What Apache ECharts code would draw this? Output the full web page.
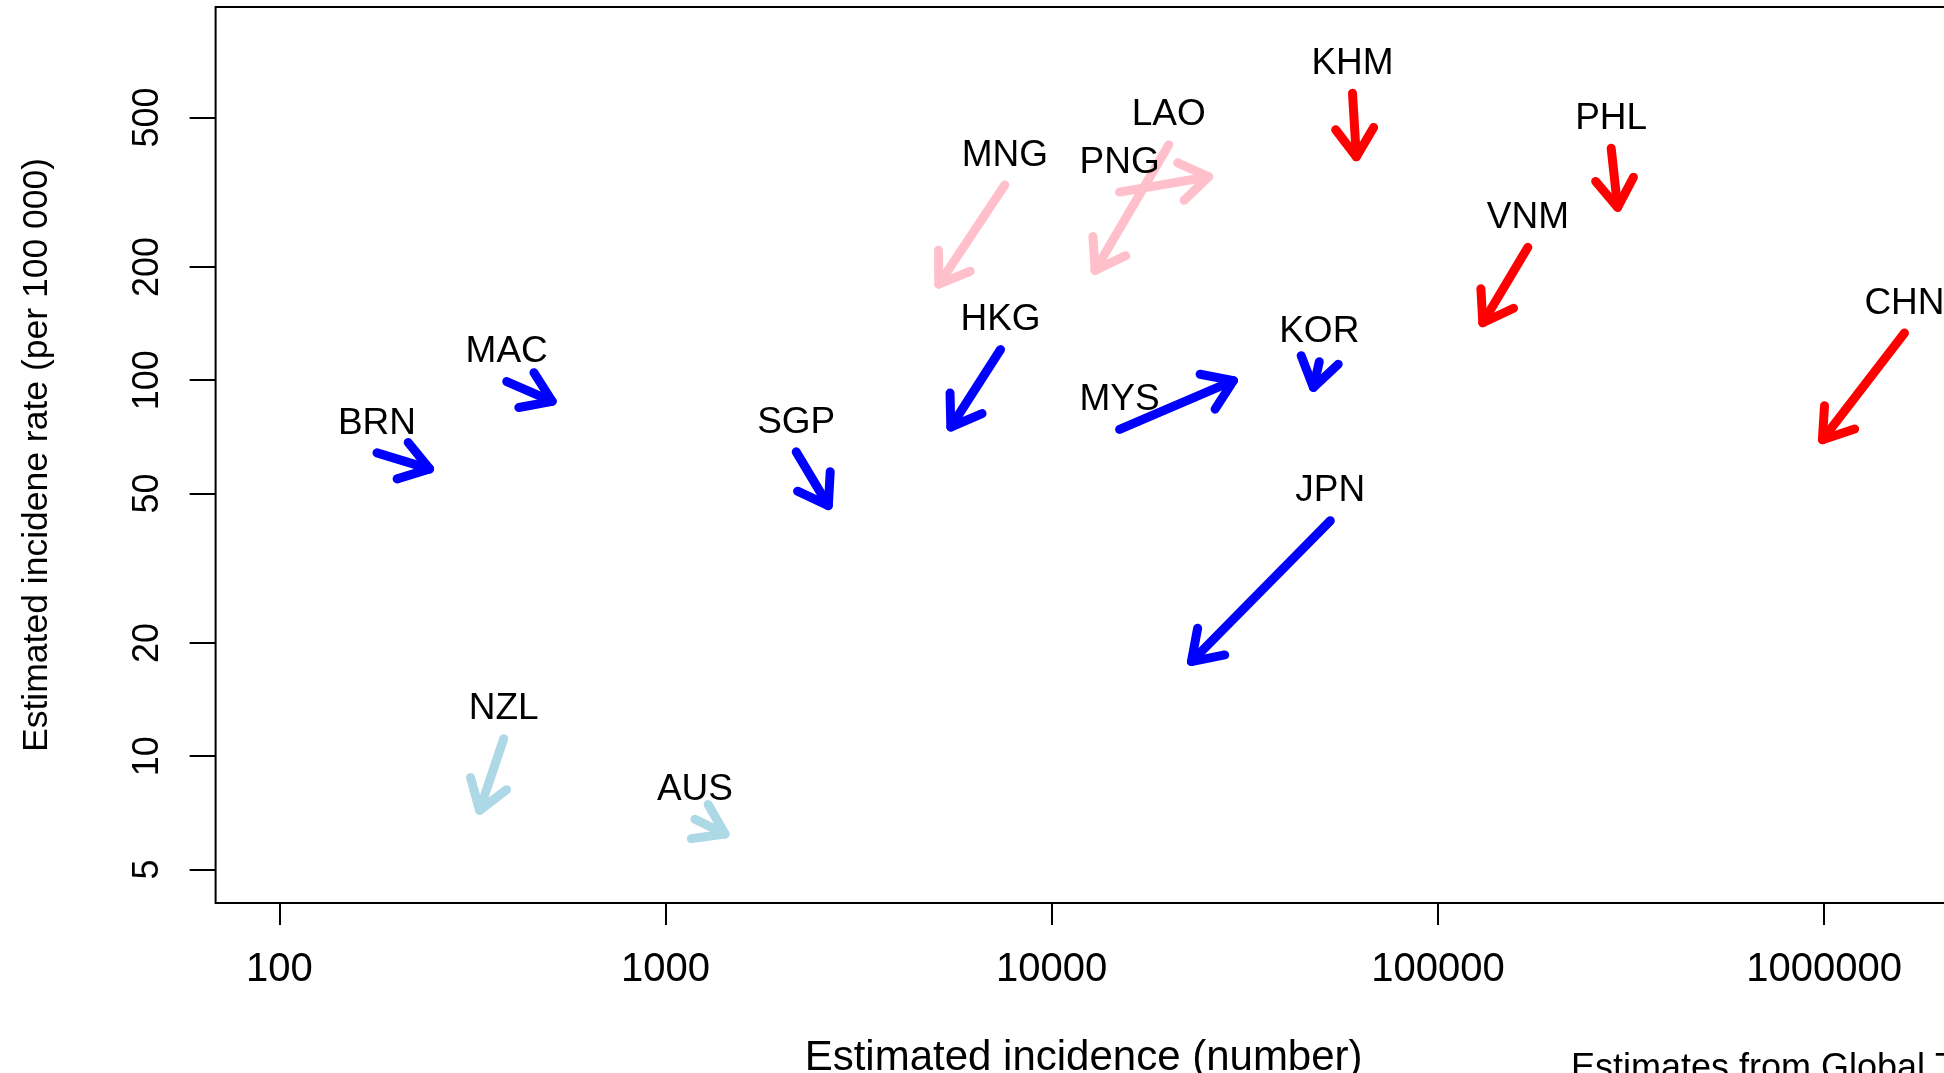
<!DOCTYPE html>
<html><head><meta charset="utf-8">
<script src="https://cdn.jsdelivr.net/npm/echarts@6/dist/echarts.min.js"></script>
<style>html,body{margin:0;padding:0;background:#fff;overflow:hidden}#c{width:1944px;height:1073px}</style>
</head><body><div id="c"></div>
<script>
// Country codes
const countries = ['BRN','MAC','SGP','HKG','MNG','LAO','PNG','MYS','KOR','JPN','KHM','PHL','VNM','CHN','NZL','AUS'];
// Burden group (drives colour)
const groups = ['low','low','low','low','mid','mid','mid','low','low','low','high','high','high','high','vlow','vlow'];
// Arrow start: estimated incidence (number) and rate (per 100 000)
const startIncidence = [179, 388, 2180, 7370, 7560, 20100, 14990, 14990, 49300, 52650, 60100, 281000, 171000, 1615000, 381, 1192];
const startRate      = [64.1, 99.2, 64.5, 120.7, 330.7, 423, 316.5, 74.0, 112.0, 42.3, 580, 414, 225.8, 133.5, 11.13, 6.80];
// Arrow end
const endIncidence   = [245, 509, 2640, 5480, 5100, 12950, 25500, 29560, 47600, 23000, 61500, 292000, 130700, 990000, 330, 1426];
const endRate        = [58.1, 87.9, 46.4, 75.1, 180.1, 196.0, 347.7, 99.8, 95.7, 17.85, 393, 288.3, 142.2, 69.5, 7.18, 6.21];
// Tick labels
const xTickValues = [100, 1000, 10000, 100000, 1000000];
const yTickValues = [5, 10, 20, 50, 100, 200, 500];

const groupColors = { high: '#FF0000', mid: '#FFC0CB', low: '#0000FF', vlow: '#ADD8E6' };
const FONT = "'Liberation Sans', Arial, Helvetica, sans-serif";

const data = countries.map((c, i) => [startIncidence[i], startRate[i], endIncidence[i], endRate[i]]);

function renderItem(params, api) {
  const i = params.dataIndex;
  const p0 = api.coord([api.value(0), api.value(1)]);
  const p1 = api.coord([api.value(2), api.value(3)]);
  const color = groupColors[groups[i]];
  const ang = Math.atan2(p0[1] - p1[1], p0[0] - p1[0]);
  const L = 34, a = 34 * Math.PI / 180;
  const h1 = [p1[0] + L * Math.cos(ang + a), p1[1] + L * Math.sin(ang + a)];
  const h2 = [p1[0] + L * Math.cos(ang - a), p1[1] + L * Math.sin(ang - a)];
  const ls = { stroke: color, lineWidth: 9, lineCap: 'round', lineJoin: 'round', fill: null };
  return {
    type: 'group',
    children: [
      { type: 'polyline', shape: { points: [p0, p1] }, style: ls },
      { type: 'polyline', shape: { points: [h1, p1, h2] }, style: ls },
      { type: 'text', style: { text: countries[i], x: p0[0], y: p0[1] - 29.5, align: 'center', verticalAlign: 'middle',
          fontSize: 37, fontFamily: FONT, fill: '#000' } }
    ]
  };
}

const chart = echarts.init(document.getElementById('c'), null, { renderer: 'canvas' });
chart.setOption({
  animation: false,
  backgroundColor: '#fff',
  grid: { left: 215.6, top: 6.9, width: 1736, height: 896.1, show: true, borderColor: '#000', borderWidth: 2,
          backgroundColor: 'transparent', containLabel: false, outerBoundsMode: 'none' },
  xAxis: {
    type: 'log', logBase: 10,
    min: Math.pow(10, 1.835), max: Math.pow(10, 6.3302),
    name: 'Estimated incidence (number)', nameLocation: 'middle', nameGap: 134,
    nameTextStyle: { fontSize: 42, fontFamily: FONT, color: '#000' },
    axisLine: { show: false },
    splitLine: { show: false },
    axisTick: { show: true, inside: false, length: 22, lineStyle: { color: '#000', width: 2 }, customValues: xTickValues },
    axisLabel: { show: true, margin: 47, fontSize: 40, fontFamily: FONT, color: '#000', customValues: xTickValues,
      formatter: v => String(Math.round(v)) }
  },
  yAxis: {
    type: 'log', logBase: 10,
    min: Math.pow(10, 0.6096), max: Math.pow(10, 2.993),
    name: 'Estimated incidene rate (per 100 000)', nameLocation: 'middle', nameGap: 160, nameRotate: 90,
    nameTextStyle: { fontSize: 35.5, fontFamily: FONT, color: '#000' },
    axisLine: { show: false },
    splitLine: { show: false },
    axisTick: { show: true, inside: false, length: 26, lineStyle: { color: '#000', width: 2 }, customValues: yTickValues },
    axisLabel: { show: true, rotate: 90, margin: 50, fontSize: 36, fontFamily: FONT, color: '#000', customValues: yTickValues,
      formatter: v => String(Math.round(v)) }
  },
  graphic: [
    { type: 'text', left: 1571, top: 1051, style: { text: 'Estimates from Global TB Report', fontSize: 36, fontFamily: FONT, fill: '#000' } }
  ],
  series: [{
    type: 'custom',
    coordinateSystem: 'cartesian2d',
    renderItem: renderItem,
    encode: { x: [0, 2], y: [1, 3] },
    data: data,
    clip: false
  }]
});
</script></body></html>
